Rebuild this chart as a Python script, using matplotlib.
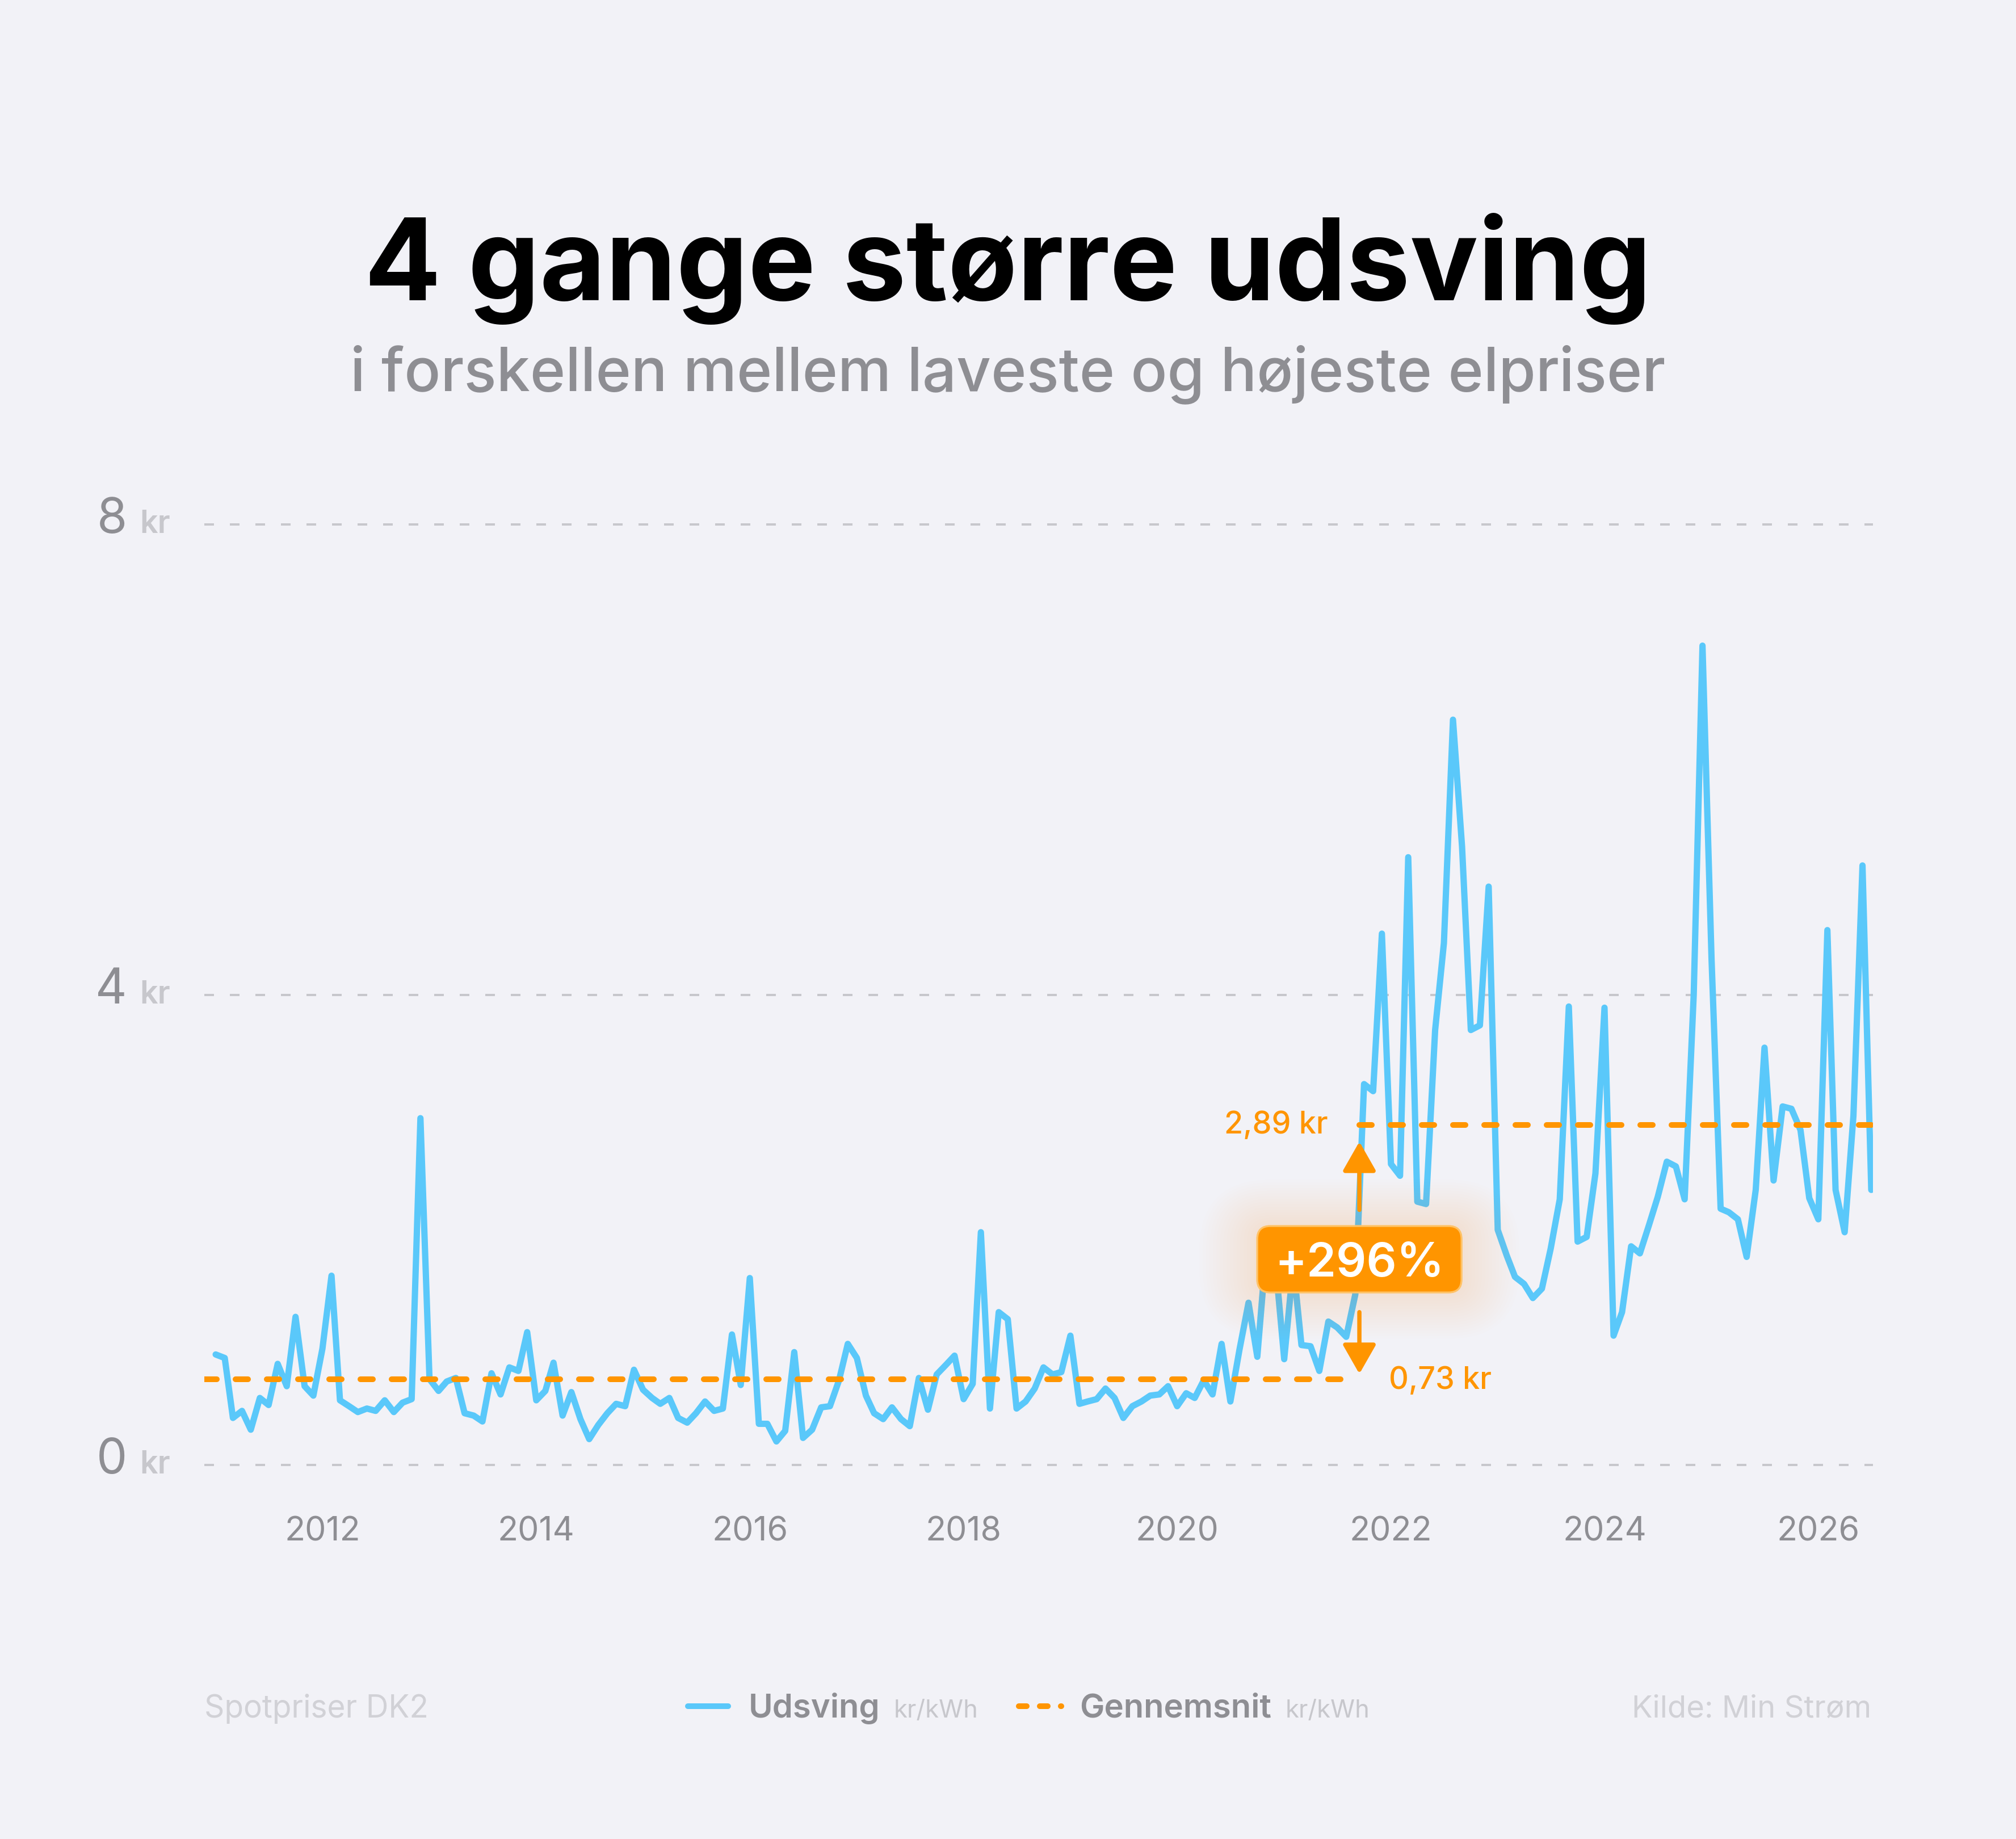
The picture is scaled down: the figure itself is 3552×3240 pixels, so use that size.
import matplotlib
matplotlib.use("Agg")
import matplotlib.pyplot as plt
import matplotlib.dates as mdates
import matplotlib.transforms as mtransforms
from matplotlib.patches import FancyBboxPatch
from matplotlib.lines import Line2D
import pandas as pd

plt.rcParams['font.family'] = ['Inter', 'DejaVu Sans']

# monthly spread between lowest and highest spot price (kr/kWh), DK2
months = pd.date_range("2011-01-01", periods=187, freq="MS")
udsving = [
    0.94, 0.91, 0.40, 0.46, 0.30, 0.57, 0.51, 0.86, 0.67, 1.26, 0.67, 0.59,
    0.99, 1.61, 0.55, 0.50, 0.45, 0.48, 0.46, 0.55, 0.45, 0.53, 0.56, 2.95,
    0.73, 0.63, 0.71, 0.74, 0.44, 0.42, 0.37, 0.78, 0.60, 0.83, 0.80, 1.13,
    0.55, 0.63, 0.87, 0.42, 0.62, 0.39, 0.22, 0.34, 0.44, 0.52, 0.50, 0.81,
    0.64, 0.57, 0.52, 0.57, 0.40, 0.36, 0.44, 0.54, 0.46, 0.48, 1.11, 0.68,
    1.59, 0.35, 0.35, 0.20, 0.29, 0.96, 0.23, 0.30, 0.49, 0.50, 0.72, 1.03,
    0.91, 0.59, 0.44, 0.39, 0.49, 0.39, 0.33, 0.74, 0.47, 0.77, 0.85, 0.93,
    0.56, 0.69, 1.98, 0.48, 1.30, 1.24, 0.48, 0.54, 0.65, 0.83, 0.77, 0.79,
    1.10, 0.52, 0.54, 0.56, 0.65, 0.57, 0.40, 0.50, 0.54, 0.59, 0.60, 0.67,
    0.50, 0.61, 0.57, 0.72, 0.60, 1.03, 0.54, 0.98, 1.38, 0.92, 1.85, 1.75,
    0.90, 1.70, 1.02, 1.01, 0.80, 1.22, 1.17, 1.09, 1.45, 3.24, 3.18, 4.52,
    2.56, 2.46, 5.17, 2.24, 2.22, 3.70, 4.44, 6.34, 5.26, 3.70, 3.74, 4.92,
    2.00, 1.78, 1.60, 1.54, 1.42, 1.50, 1.84, 2.26, 3.90, 1.90, 1.94, 2.48,
    3.89, 1.10, 1.30, 1.86, 1.80, 2.04, 2.28, 2.58, 2.54, 2.26, 4.00, 6.97,
    4.30, 2.18, 2.15, 2.09, 1.77, 2.34, 3.55, 2.42, 3.05, 3.03, 2.85, 2.27,
    2.09, 4.55, 2.34, 1.98, 2.97, 5.10, 2.34,
]

avg_before = 0.73
avg_after = 2.89
split_month = pd.Timestamp("2021-09-01")

y_ticks = [0, 4, 8]

title = "4 gange større udsving"
subtitle = "i forskellen mellem laveste og højeste elpriser"
source_left = "Spotpriser DK2"
source_right = "Kilde: Min Strøm"
legend_names = ["Udsving", "Gennemsnit"]
unit = "kr/kWh"

BG = "#F2F2F7"
BLUE = "#5AC8FA"
ORANGE = "#FF9500"
GRAY = "#8E8E93"
LIGHT = "#C7C7CC"
FAINT = "#D1D1D6"

W, H = 3552, 3240
DPI = 200
fig = plt.figure(figsize=(W / DPI, H / DPI), dpi=DPI, facecolor=BG)

# axes placed in pixels
y0_px, px_per_kr = 2581, 207.1
ylim = (-0.2, 8.2)
ax_top = y0_px - ylim[1] * px_per_kr
ax_bot = y0_px - ylim[0] * px_per_kr
ax_left, ax_right = 360, 3300
ax = fig.add_axes([ax_left / W, 1 - ax_bot / H, (ax_right - ax_left) / W, (ax_bot - ax_top) / H])
ax.set_facecolor("none")
ax.set_ylim(*ylim)

xs = mdates.date2num(months.to_pydatetime())
first_px, last_px = 380, 3297
ppd = (last_px - first_px) / (xs[-1] - xs[0])
ax.set_xlim(xs[0] - (first_px - ax_left) / ppd, xs[-1] + (ax_right - last_px) / ppd)

for s in ax.spines.values():
    s.set_visible(False)
ax.set_yticks([])
ax.xaxis.set_major_locator(mdates.YearLocator(2))
ax.xaxis.set_major_formatter(mdates.DateFormatter("%Y"))
ax.tick_params(axis="x", length=0, pad=17.5, labelsize=21.3, labelcolor=GRAY)

# dashed grid + y labels
lbl_tr = mtransforms.blended_transform_factory(ax.transAxes, ax.transData)
for v in y_ticks:
    ax.axhline(v, color=LIGHT, lw=1.44, dashes=(4.25, 7.0), zorder=1)
    ax.text(-0.0463, v - 0.072, f"{v}", transform=lbl_tr, ha="right", va="baseline",
            fontsize=31, color=GRAY)
    ax.text(-0.0388, v - 0.072, "kr", transform=lbl_tr, ha="left", va="baseline",
            fontsize=20, color=LIGHT, fontweight="semibold")

# main line
ax.plot(xs, udsving, color=BLUE, lw=4, solid_joinstyle="round", solid_capstyle="round", zorder=3)

# averages
split_idx = list(months).index(split_month)
arrow_x = mdates.date2num((split_month + pd.Timedelta(days=14)).to_pydatetime())
dash_kw = dict(color=ORANGE, lw=3.6, dashes=(2.2, 3.3), dash_capstyle="round", zorder=4)
ax.plot([ax.get_xlim()[0], xs[split_idx - 1]], [avg_before, avg_before], **dash_kw)
ax.plot([arrow_x, xs[-1]], [avg_after, avg_after], **dash_kw)

def kr(v):
    return f"{v:.2f}".replace(".", ",") + " kr"

ax.annotate(kr(avg_after), xy=(arrow_x, avg_after), xytext=(-19.8, 0), textcoords="offset points",
            ha="right", va="center", fontsize=19.4, color=ORANGE, fontweight="medium", zorder=6)
ax.annotate(kr(avg_before), xy=(arrow_x, avg_before), xytext=(18.7, -1), textcoords="offset points",
            ha="left", va="center", fontsize=19.4, color=ORANGE, fontweight="medium", zorder=6)

arrow_kw = dict(arrowstyle="-|>,head_length=15.8,head_width=9", color=ORANGE, lw=2.7,
                mutation_scale=1, shrinkA=0, shrinkB=0)
ax.annotate("", xy=(arrow_x, avg_after - 0.14), xytext=(arrow_x, 2.17), arrowprops=arrow_kw, zorder=6)
ax.annotate("", xy=(arrow_x, avg_before + 0.045), xytext=(arrow_x, 1.30), arrowprops=arrow_kw, zorder=6)

# percentage badge with glow
pct = (avg_after / avg_before - 1) * 100
cx, cy = ax.transData.transform((arrow_x, 1.75))
bw, bh, rr = 360, 117, 23
ident = mtransforms.IdentityTransform()
for i in range(1, 18):
    p = i * 6
    g = FancyBboxPatch((cx - bw / 2 - p, cy - bh / 2 - p * 0.8), bw + 2 * p, bh + 1.6 * p,
                       boxstyle=f"round,pad=0,rounding_size={rr + p}", transform=ident,
                       facecolor=ORANGE, edgecolor="none", alpha=0.009, zorder=5)
    ax.add_artist(g)
box = FancyBboxPatch((cx - bw / 2, cy - bh / 2), bw, bh, boxstyle=f"round,pad=0,rounding_size={rr}",
                     transform=ident, facecolor=ORANGE, edgecolor="#FFC266", lw=1.2, zorder=7)
ax.add_artist(box)
ax.text(cx, cy - 30, f"+{pct:.0f}%", transform=ident, ha="center", va="baseline",
        fontsize=30, color="white", fontweight="semibold", zorder=8)

# titles
fig.text(0.5, 1 - 529 / H, title, ha="center", va="baseline", fontsize=72,
         fontweight="bold", color="black")
fig.text(0.5, 1 - 688 / H, subtitle, ha="center", va="baseline", fontsize=38.2,
         fontweight="medium", color=GRAY)

# footer
base = 1 - 3026 / H
fig.text(ax_left / W, base, source_left, ha="left", va="baseline", fontsize=19.8, color=FAINT)
fig.text(last_px / W, base, source_right, ha="right", va="baseline", fontsize=19.6, color=FAINT)

# legend built by hand
renderer = fig.canvas.get_renderer()
mid_y = 3006
x = 0.0
parts = []
for i, name in enumerate(legend_names):
    if i > 0:
        x += 67
    parts.append(("marker", i, x))
    x += 81 + 31
    t1 = fig.text(0, base, name, ha="left", va="baseline", fontsize=20.9, color=GRAY, fontweight="semibold")
    w1 = t1.get_window_extent(renderer).width
    parts.append(("text", t1, x))
    x += w1 + 24
    t2 = fig.text(0, base, unit, ha="left", va="baseline", fontsize=15.7, color=LIGHT)
    w2 = t2.get_window_extent(renderer).width
    parts.append(("text", t2, x))
    x += w2
start = 1810 - x / 2
for kind, obj, px in parts:
    if kind == "text":
        obj.set_x((start + px) / W)
    elif obj == 0:
        fig.add_artist(Line2D([(start + px + 5) / W, (start + px + 76) / W], [1 - mid_y / H] * 2,
                              color=BLUE, lw=3.6, solid_capstyle="round"))
    else:
        fig.add_artist(Line2D([(start + px + 5) / W, (start + px + 80) / W], [1 - mid_y / H] * 2,
                              color=ORANGE, lw=3.6, dashes=(1.4, 2.3), dash_capstyle="round"))

fig.savefig("out.png", dpi=DPI, facecolor=BG)
